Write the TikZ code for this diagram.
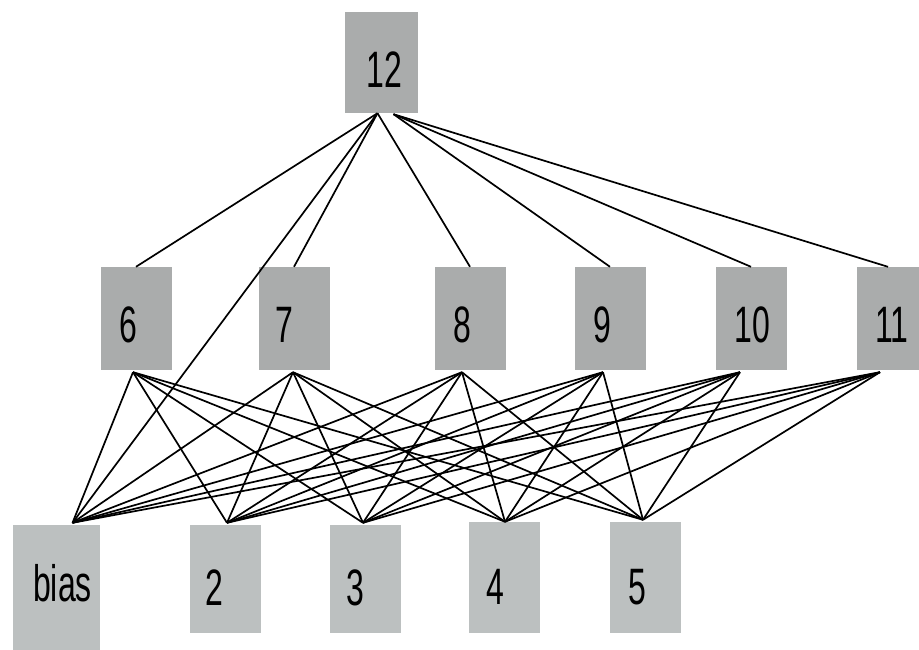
\documentclass[tikz,border=0pt]{standalone}
\usepackage{fontspec}
\usepackage{graphicx}
\setmainfont{Liberation Sans}
\definecolor{hiddengray}{RGB}{170,172,172}
\definecolor{inputgray}{RGB}{188,192,192}
% label text, tall and narrow, nudged by (#1 right, #2 down) from the box centre
\newcommand{\tallnum}[3]{\smash{\raisebox{\dimexpr-18pt-#2pt\relax}{\makebox[0pt]{\hspace{#1pt}\hspace{#1pt}\scalebox{1}[1.6]{\fontsize{32}{32}\selectfont #3}}}}}
\begin{document}
\begin{tikzpicture}[x=1pt,y=-1pt,
  unit/.style={rectangle,inner sep=0pt,minimum width=71pt,minimum height=103pt,fill=hiddengray},
  inunit/.style={unit,fill=inputgray,minimum height=108pt},
  wire/.style={draw=black,line width=1.7pt}]
\useasboundingbox (0,0) rectangle (919,650);

% output unit
\node[unit,minimum width=73pt,minimum height=101pt] (u12) at (381.5,62.5) {\tallnum{3}{7}{12}};

% hidden units
\node[unit] (u6)  at (136,318.5) {\tallnum{-8}{6}{6}};
\node[unit] (u7)  at (294,318.5) {\tallnum{-10}{6}{7}};
\node[unit] (u8)  at (470,318.5) {\tallnum{-8}{6}{8}};
\node[unit] (u9)  at (610,318.5) {\tallnum{-8}{6}{9}};
\node[unit] (u10) at (751,318.5) {\tallnum{1}{6}{10}};
\node[unit,minimum width=62pt] (u11) at (888,318.5) {\tallnum{4}{6}{11}};

% input units
\node[inunit,minimum width=87pt,minimum height=125pt] (ubias) at (56.5,587.5) {\tallnum{6}{-4}{bias}};
\node[inunit] (u2) at (225,579) {\tallnum{-11}{8}{2}};
\node[inunit] (u3) at (365,579) {\tallnum{-10}{8}{3}};
\node[inunit,minimum height=111pt] (u4) at (504,577.5) {\tallnum{-9}{9}{4}};
\node[inunit,minimum height=111pt] (u5) at (645,577.5) {\tallnum{-8}{9}{5}};

% attachment points of the wires
\coordinate (o12l) at ([xshift=-4pt]u12.south);
\coordinate (o12r) at ([xshift=12pt,yshift=-1pt]u12.south);
\coordinate (b6)  at ([xshift=-3pt,yshift=-2pt]u6.south);
\coordinate (b7)  at ([xshift=-1pt,yshift=-2pt]u7.south);
\coordinate (b8)  at ([xshift=-8pt,yshift=-2pt]u8.south);
\coordinate (b9)  at ([xshift=-7pt,yshift=-2pt]u9.south);
\coordinate (b10) at ([xshift=-11pt,yshift=-2pt]u10.south);
\coordinate (b11) at ([xshift=-8pt,yshift=-2pt]u11.south);
\coordinate (tbias) at ([xshift=16pt,yshift=2pt]ubias.north);
\coordinate (t2) at ([xshift=2pt,yshift=2pt]u2.north);
\coordinate (t3) at ([xshift=-2pt,yshift=2pt]u3.north);
\coordinate (t4) at ([xshift=1pt]u4.north);
\coordinate (t5) at ([xshift=-2pt,yshift=2pt]u5.north);

% output to hidden units and bias
\draw[wire] (o12l) -- (u6.north);
\draw[wire] (o12l) -- (u7.north);
\draw[wire] (o12l) -- (tbias);
\draw[wire] (o12l) -- (u8.north);
\draw[wire] (o12r) -- (u9.north);
\draw[wire] (o12r) -- (u10.north);
\draw[wire] (o12r) -- (u11.north);

% hidden units to inputs (fully connected)
\foreach \h in {b6,b7,b8,b9,b10,b11}{
  \foreach \i in {tbias,t2,t3,t4,t5}{
    \draw[wire] (\h) -- (\i);
  }
}
\end{tikzpicture}
\end{document}
